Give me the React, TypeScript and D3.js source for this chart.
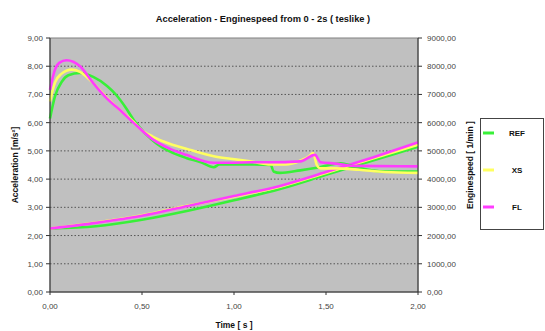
import React from 'react';
import * as d3 from 'd3';

const W = 545;
const H = 331;
const M = { top: 38, right: 127, bottom: 39, left: 50 };

const TITLE = 'Acceleration - Enginespeed from 0 - 2s ( teslike )';
const X_TICKS = [0, 0.5, 1, 1.5, 2];
const ACC_TICKS = [0, 1, 2, 3, 4, 5, 6, 7, 8, 9];
const RPM_TICKS = [0, 1000, 2000, 3000, 4000, 5000, 6000, 7000, 8000, 9000];

// acceleration [m/s²]
const refAccT = [0, 0.027, 0.065, 0.1, 0.163, 0.235, 0.31, 0.36, 0.41, 0.46, 0.52, 0.58, 0.65, 0.74, 0.82, 0.89, 0.92, 1.0, 1.1, 1.2, 1.215, 1.25, 1.36, 1.45, 1.58, 1.65, 1.79, 1.9, 2.0];
const refAcc = [6.15, 6.93, 7.46, 7.68, 7.76, 7.62, 7.3, 6.98, 6.55, 6.05, 5.6, 5.25, 4.98, 4.75, 4.6, 4.42, 4.52, 4.52, 4.52, 4.5, 4.27, 4.22, 4.31, 4.4, 4.56, 4.45, 4.28, 4.27, 4.27];

const xsAccT = [0, 0.027, 0.06, 0.118, 0.163, 0.235, 0.31, 0.38, 0.45, 0.49, 0.56, 0.65, 0.74, 0.815, 0.89, 0.98, 1.087, 1.2, 1.28, 1.36, 1.41, 1.43, 1.45, 1.47, 1.55, 1.68, 1.82, 2.0];
const xsAcc = [6.75, 7.42, 7.72, 7.88, 7.8, 7.4, 6.88, 6.45, 6.05, 5.78, 5.5, 5.25, 5.08, 4.93, 4.81, 4.72, 4.63, 4.52, 4.52, 4.65, 4.82, 4.92, 4.5, 4.38, 4.38, 4.33, 4.25, 4.22];

const flAccT = [0, 0.027, 0.05, 0.09, 0.163, 0.235, 0.31, 0.38, 0.45, 0.56, 0.65, 0.74, 0.89, 0.98, 1.087, 1.2, 1.36, 1.44, 1.47, 1.55, 1.65, 2.0];
const flAcc = [7.17, 7.88, 8.12, 8.21, 8.0, 7.4, 6.85, 6.45, 6.02, 5.4, 5.08, 4.86, 4.58, 4.58, 4.6, 4.6, 4.63, 4.86, 4.6, 4.55, 4.47, 4.45];

// enginespeed [1/min]
const rpmT = [0, 0.25, 0.5, 0.75, 1.0, 1.25, 1.5, 1.75, 2.0];
const refRpm = [2250, 2330, 2560, 2880, 3250, 3650, 4150, 4650, 5150];
const xsRpm = [2250, 2460, 2720, 3060, 3380, 3730, 4220, 4720, 5220];
const flRpm = [2250, 2450, 2700, 3050, 3400, 3760, 4250, 4760, 5300];

const SERIES = ['REF', 'XS', 'FL'];
const COLORS = ['#38f038', '#ffff60', '#ff3cff'];

const fmt = (v: number) => v.toFixed(2).replace('.', ',');

export default function App() {
  const pw = W - M.left - M.right;
  const ph = H - M.top - M.bottom;

  const x = d3.scaleLinear().domain([0, 2]).range([M.left, M.left + pw]);
  const yAcc = d3.scaleLinear().domain([0, 9]).range([M.top + ph, M.top]);
  const yRpm = d3.scaleLinear().domain([0, 9000]).range([M.top + ph, M.top]);

  const mk = (ts: number[], vs: number[], y: d3.ScaleLinear<number, number>) =>
    d3
      .line<[number, number]>()
      .x((d) => x(d[0]))
      .y((d) => y(d[1]))
      .curve(d3.curveMonotoneX)(ts.map((t, i) => [t, vs[i]] as [number, number])) || '';

  const rpmPaths = [
    mk(rpmT, refRpm, yRpm),
    mk(rpmT, xsRpm, yRpm),
    mk(rpmT, flRpm, yRpm),
  ];
  const accPaths = [
    mk(refAccT, refAcc, yAcc),
    mk(xsAccT, xsAcc, yAcc),
    mk(flAccT, flAcc, yAcc),
  ];

  const font = 'Arial, "Liberation Sans", sans-serif';
  const tickColor = '#444';
  const x0 = M.left;
  const x1 = M.left + pw;
  const yb = M.top + ph;

  return (
    <svg width={W} height={H} style={{ position: 'absolute', left: 0, top: 0, background: '#fff' }} fontFamily={font}>
      <text x={263} y={22} textAnchor="middle" fontSize={9.3} fontWeight="bold" fill="#111">
        {TITLE}
      </text>

      <rect x={x0} y={M.top} width={pw} height={ph} fill="#c0c0c0" stroke="#808080" strokeWidth={1} />

      {ACC_TICKS.slice(1, -1).map((t) => (
        <line key={'g' + t} x1={x0} x2={x1} y1={yAcc(t)} y2={yAcc(t)} stroke="#555" strokeWidth={1} strokeDasharray="1.5,2" />
      ))}

      {rpmPaths.map((d, i) => (
        <path key={'r' + i} d={d} fill="none" stroke={COLORS[i]} strokeWidth={2.6} />
      ))}
      {accPaths.map((d, i) => (
        <path key={'a' + i} d={d} fill="none" stroke={COLORS[i]} strokeWidth={2.6} />
      ))}

      {/* axes */}
      <line x1={x0} x2={x0} y1={M.top} y2={yb} stroke="#333" />
      <line x1={x1} x2={x1} y1={M.top} y2={yb} stroke="#333" />
      <line x1={x0} x2={x1} y1={yb} y2={yb} stroke="#333" />

      {ACC_TICKS.map((t) => (
        <g key={'la' + t}>
          <line x1={x0 - 4} x2={x0} y1={yAcc(t)} y2={yAcc(t)} stroke="#333" />
          <text x={x0 - 7} y={yAcc(t) + 3} textAnchor="end" fontSize={8} fill={tickColor}>
            {fmt(t)}
          </text>
        </g>
      ))}
      {RPM_TICKS.map((t) => (
        <g key={'lr' + t}>
          <line x1={x1} x2={x1 + 4} y1={yRpm(t)} y2={yRpm(t)} stroke="#333" />
          <text x={x1 + 9} y={yRpm(t) + 3} textAnchor="start" fontSize={8} fill={tickColor}>
            {fmt(t)}
          </text>
        </g>
      ))}
      {X_TICKS.map((t) => (
        <g key={'lx' + t}>
          <line x1={x(t)} x2={x(t)} y1={yb} y2={yb + 3} stroke="#333" />
          <text x={x(t)} y={yb + 17} textAnchor="middle" fontSize={8} fill={tickColor}>
            {fmt(t)}
          </text>
        </g>
      ))}

      <text x={(x0 + x1) / 2} y={328} textAnchor="middle" fontSize={8.5} fontWeight="bold" fill="#111">
        Time [ s ]
      </text>
      <text transform={`translate(18,${M.top + ph / 2}) rotate(-90)`} textAnchor="middle" fontSize={8.5} fontWeight="bold" fill="#111">
        Acceleration [m/s²]
      </text>
      <text transform={`translate(473,${M.top + ph / 2}) rotate(-90)`} textAnchor="middle" fontSize={8.5} fontWeight="bold" fill="#111">
        Enginespeed [ 1/min ]
      </text>

      {/* legend */}
      <rect x={480.5} y={118.5} width={63} height={111} fill="#fff" stroke="#444" />
      {SERIES.map((s, i) => (
        <g key={s}>
          <line x1={483} x2={494} y1={133 + i * 37} y2={133 + i * 37} stroke={COLORS[i]} strokeWidth={3} />
          <text x={517} y={136 + i * 37} textAnchor="middle" fontSize={8} fontWeight="bold" fill="#111">
            {s}
          </text>
        </g>
      ))}
    </svg>
  );
}
